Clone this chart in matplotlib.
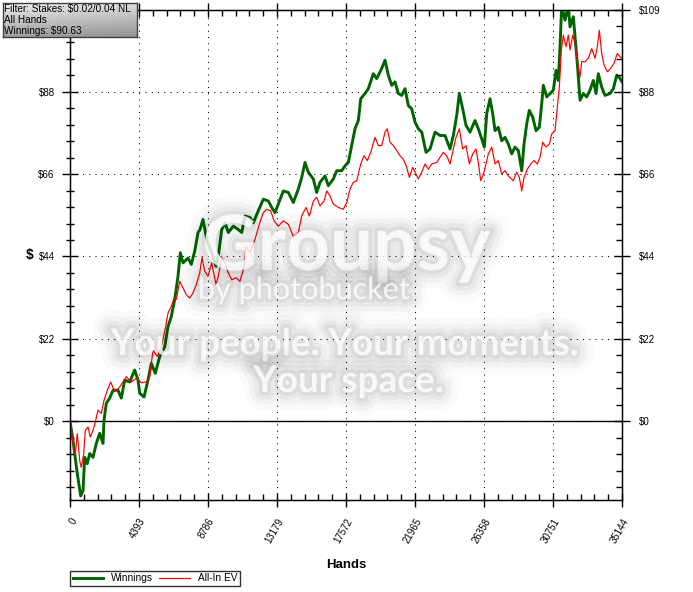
import matplotlib.pyplot as plt
import matplotlib.patheffects as pe
import numpy as np
from matplotlib.ticker import MultipleLocator, FixedLocator

# winnings curve
win_hands = [0, 191, 299, 465, 681, 828, 936, 1101, 1254, 1464, 1675, 1891, 2101, 2165, 2311, 2528,
             2738, 3056, 3266, 3483, 3801, 4119, 4330, 4438, 4712, 4966, 5176, 5431, 5711, 6029, 6240,
             6450, 6666, 6876, 7023, 7195, 7513, 7723, 7940, 8150, 8277, 8468, 8704, 9022, 9296, 9442,
             9659, 9869, 10079, 10397, 10716, 10932, 11142, 11461, 11671, 11989, 12307, 12626, 12842,
             13052, 13263, 13581, 13899, 14218, 14536, 14752, 14962, 15173, 15491, 15707, 15918, 16236,
             16446, 16765, 16981, 17299, 17509, 17719, 17936, 18146, 18356, 18509, 18783, 18993, 19311,
             19528, 19846, 20056, 20266, 20483, 20693, 20903, 21120, 21329, 21540, 21756, 21966, 22176,
             22393, 22667, 22921, 23240, 23558, 23876, 24195, 24405, 24621, 24787, 25003, 25213, 25468,
             25786, 25996, 26213, 26378, 26531, 26741, 26913, 27060, 27270, 27486, 27696, 27907, 28123,
             28334, 28544, 28760, 28906, 29078, 29244, 29460, 29670, 29880, 30033, 30135, 30352, 30562,
             30772, 30944, 31090, 31198, 31307, 31517, 31727, 31835, 32045, 32153, 32300, 32472, 32682,
             32898, 33108, 33319, 33490, 33637, 33853, 34063, 34382, 34592, 34809, 35019, 35144]
win_vals = [0, -5.1, -8.6, -14, -19.9, -18.5, -9.6, -11.3, -8.6, -9.6, -5.9, -3.2, -5.9, 0.3, 4.8, 6.2,
            8.3, 8.3, 6.2, 11, 10.5, 13.7, 11, 7.5, 6.5, 11, 15.5, 12.8, 17.3, 19.9, 25.3,
            28, 32.5, 38.7, 45, 42.3, 43.6, 41.9, 45.4, 50.4, 51.2, 53.9, 48.6, 45, 41.4, 44.1,
            51.2, 53, 50.4, 52.1, 51.2, 50.4, 54.8, 54.4, 53, 56.2, 59.3, 58.8, 57.1,
            55.7, 58, 61.5, 61.1, 58.4, 62, 65.1, 69.1, 66.5, 64.7, 61.1, 63.8, 65.5,
            62.9, 64.7, 66.9, 66.9, 68.2, 69.1, 73.6, 78.1, 80.3, 86.1, 87.5, 88.8, 92.8,
            91.5, 94.2, 96.4, 92.4, 89.7, 90.6, 87.5, 87, 88.8, 84.3, 83.4, 79.9, 78.1,
            77.2, 71.8, 72.7, 77.2, 76.3, 76.3, 72.7, 76.3, 81.7, 87.5, 83.4, 79, 77.2,
            80.3, 78.1, 75.4, 73.2, 82.1, 86.1, 82.1, 77.6, 78.5, 74.9, 75.8, 74, 71.4,
            73.2, 72.3, 66.9, 74, 79.4, 83, 81.2, 77.6, 78.5, 84.8, 89.7, 86.6, 87.5,
            88.4, 93.7, 91, 100, 111, 107.1, 111, 105.3, 108, 102.7, 95.5, 85.7, 87.5,
            86.6, 88.4, 91, 87.5, 92.8, 89.2, 87, 87.5, 88.8, 92.4, 91.5, 90.63]

# all-in EV curve
ev_hands = [0, 191, 337, 465, 618, 719, 872, 974, 1146, 1293,
            1464, 1611, 1783, 1993, 2165, 2375, 2591, 2846, 3101, 3375,
            3585, 3903, 4221, 4540, 4858, 5074, 5285, 5558, 5813, 6093,
            6240, 6450, 6622, 6768, 6985, 7195, 7405, 7621, 7831, 8042,
            8258, 8404, 8576, 8786, 9022, 9296, 9442, 9659, 9869, 10079,
            10295, 10569, 10824, 11034, 11206, 11461, 11779, 12053, 12307, 12524,
            12779, 12989, 13263, 13581, 13899, 14218, 14536, 14752, 15026, 15236,
            15491, 15707, 15918, 16172, 16344, 16554, 16765, 17083, 17401, 17618,
            17828, 18038, 18254, 18509, 18719, 18929, 19146, 19419, 19630, 19846,
            20056, 20202, 20374, 20585, 20801, 21011, 21221, 21438, 21604, 21820,
            22030, 22176, 22393, 22603, 22813, 23030, 23348, 23558, 23768, 23984,
            24195, 24405, 24577, 24787, 25003, 25213, 25423, 25640, 25850, 25996,
            26149, 26359, 26633, 26850, 27060, 27270, 27486, 27696, 27907, 28225,
            28441, 28607, 28760, 28906, 29116, 29333, 29543, 29753, 29925, 30097,
            30307, 30517, 30670, 30880, 31027, 31154, 31282, 31409, 31581, 31727,
            31835, 32007, 32153, 32300, 32472, 32580, 32790, 33000, 33217, 33427,
            33573, 33701, 33853, 34000, 34210, 34420, 34630, 34847, 35019, 35144]
ev_vals = [0, -6, -8.7, -3.3, -10.5, -12.3, -8.7, -2.4, -1.5, -4.2,
           -2.4, -0.2, 3, 2.1, 5.6, 8.3, 10.5, 7.9, 8.8, 10.5,
           11.9, 10.5, 11.5, 10.3, 10.5, 11.9, 19, 17.3, 19.9, 25.3,
           28.9, 30.7, 32.9, 32.5, 37.4, 35.6, 33.8, 32.9, 34.3, 36.5,
           39.6, 43.7, 40.1, 38.7, 42.3, 36.5, 38.7, 43.7, 42.3, 39.6,
           37.8, 38.3, 37.4, 40.5, 46.8, 45, 48.6, 52.6, 55.7, 56.6,
           56.2, 53.5, 52.1, 53.5, 52.6, 49.4, 50.4, 54.8, 57.1, 54.8,
           58.8, 59.8, 57.5, 58.8, 61.5, 60.2, 58, 57.1, 56.6, 58.4,
           62, 63.8, 64.2, 68.7, 70.9, 69.6, 71.8, 75.8, 73.6, 73.6,
           77.2, 78.1, 74.5, 73.6, 72.3, 70.9, 70, 67.8, 65.1, 67.8,
           66, 64.7, 66.5, 68.7, 67.3, 68.7, 69.1, 70.5, 71.8, 70.9,
           68.7, 72.7, 75.8, 78.1, 72.7, 73.6, 68.7, 71.4, 72.7, 69.1,
           64.2, 66.5, 71.4, 73.2, 68.7, 69.6, 66, 66.9, 65.5, 64.2,
           66.5, 65.1, 61.5, 65.1, 67.3, 68.7, 69.6, 68.7, 70.5, 74.5,
           73.2, 74, 76.7, 77.6, 83.9, 89.2, 99.1, 103.1, 100, 103.1,
           99.1, 103.1, 100.9, 96.4, 91.9, 96, 96, 96.9, 99.5, 96.9,
           100, 104.4, 98.2, 95.1, 93.3, 94.2, 95.5, 98.2, 97.3, 97]

x_ticks = [0, 4393, 8786, 13179, 17572, 21965, 26358, 30751, 35144]
y_ticks = [0, 22, 44, 66, 88]
y_min, y_max = -21, 109.8

info_lines = ["Filter: Stakes: $0.02/0.04 NL", "All Hands", "Winnings: $90.63"]

W, H = 693, 592
font = "Liberation Sans"

fig = plt.figure(figsize=(W / 100, H / 100), dpi=100)
fig.patch.set_facecolor("white")

ax = fig.add_axes([70 / W, 1 - 500 / H, 552 / W, 490 / H])
ax.plot(win_hands, win_vals, color="#006400", lw=2.1, zorder=3)
ax.plot(ev_hands, ev_vals, color="#ff0000", lw=0.85, zorder=4)
ax.axhline(0, color="black", lw=1.0, zorder=2)

ax.set_xlim(0, 35144)
ax.set_ylim(y_min, y_max)
ax.xaxis.set_major_locator(FixedLocator(x_ticks))
ax.xaxis.set_minor_locator(MultipleLocator(35144 / 40))
ax.yaxis.set_major_locator(FixedLocator(y_ticks))
ax.yaxis.set_minor_locator(MultipleLocator(4.4))
ax.set_xticklabels([str(t) for t in x_ticks], rotation=60, ha="right", va="top",
                   rotation_mode="anchor", fontsize=7, family=font)
ax.set_yticklabels(["$%d" % t for t in y_ticks], fontsize=7, family=font)

ax.grid(which="major", color="black", lw=0.75, linestyle=(0, (1, 5)))
ax.tick_params(axis="x", which="major", direction="inout", length=10, width=1, top=True, pad=7)
ax.tick_params(axis="x", which="minor", direction="in", length=4, width=1, top=True)
ax.tick_params(axis="y", which="major", direction="inout", length=12, width=1, pad=5, right=False)
ax.tick_params(axis="y", which="minor", direction="inout", length=6, width=1, right=False)
for s in ax.spines.values():
    s.set_linewidth(1)

# right hand axis with its own labels
ax2 = ax.twinx()
ax2.set_ylim(y_min, y_max)
ax2.yaxis.set_major_locator(FixedLocator(y_ticks + [y_max]))
ax2.yaxis.set_minor_locator(MultipleLocator(4.4))
ax2.set_yticklabels(["$%d" % t for t in y_ticks + [y_max]], fontsize=7, family=font)
ax2.tick_params(axis="y", which="major", direction="inout", length=12, width=1, pad=6)
ax2.tick_params(axis="y", which="minor", direction="in", length=4, width=1)

ax.set_xlabel("Hands", fontsize=9.5, fontweight="bold", family=font, labelpad=10)
fig.text(30 / W, 1 - 255 / H, "$", fontsize=10, fontweight="bold", family=font,
         ha="center", va="center")

# info box top left
box = fig.add_axes([3 / W, 1 - 37 / H, 134 / W, 34 / H])
gy, gx = np.mgrid[0:1:40j, 0:1:120j]
grad = 0.93 - 0.30 * gy - 0.06 * gx
box.imshow(grad, cmap="gray", vmin=0, vmax=1, aspect="auto", extent=[0, 1, 0, 1], origin="upper")
box.set_xticks([])
box.set_yticks([])
for s in box.spines.values():
    s.set_color("#404040")
    s.set_linewidth(1)
for i, line in enumerate(info_lines):
    fig.text(4 / W, 1 - (9 + 11 * i) / H, line, fontsize=7.2, family=font, va="center", ha="left")

# legend under the plot
leg = fig.legend(["Winnings", "All-In EV"], loc="lower left",
                 bbox_to_anchor=(70 / W, 1 - 586 / H), ncol=2, frameon=True, fancybox=False,
                 prop={"family": font, "size": 7.3}, handlelength=3.0, handletextpad=0.8,
                 columnspacing=0.6, borderpad=0.25, borderaxespad=0)
leg.get_frame().set_edgecolor("black")
leg.get_frame().set_linewidth(1)

# photobucket watermark: white letters with a soft grey halo
glow = [pe.Stroke(linewidth=26, foreground="black", alpha=0.02),
        pe.Stroke(linewidth=18, foreground="black", alpha=0.03),
        pe.Stroke(linewidth=11, foreground="black", alpha=0.04),
        pe.Stroke(linewidth=5, foreground="black", alpha=0.05),
        pe.Normal()]
wm = dict(color="white", alpha=0.8, family="Lato", path_effects=glow, zorder=10)
fig.text(346 / W, 1 - 270 / H, "Groupsy", fontsize=55, fontweight="bold", ha="center",
         va="baseline", **wm)
fig.text(198 / W, 1 - 299 / H, "by photobucket", fontsize=22, ha="left", va="baseline", **wm)
fig.text(344 / W, 1 - 355 / H, "Your people. Your moments.", fontsize=26.5, fontweight="bold",
         ha="center", va="baseline", **wm)
fig.text(348 / W, 1 - 392 / H, "Your space.", fontsize=26.5, fontweight="bold", ha="center",
         va="baseline", **wm)

fig.savefig("out.png", dpi=100)
